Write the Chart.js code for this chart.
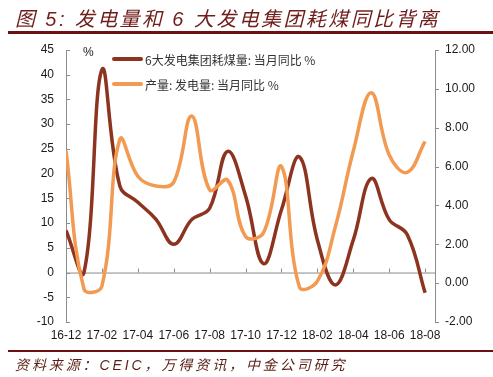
<!DOCTYPE html>
<html>
<head>
<meta charset="utf-8">
<script src="https://cdn.jsdelivr.net/npm/chart.js@4.4.1/dist/chart.umd.min.js"></script>
<style>
    body { margin: 0; background: #fff; }
    #kadr { position: relative; width: 493px; height: 377px; overflow: hidden; }
    #wykres-box { position: absolute; left: 0; top: 0; width: 493px; height: 377px; }
    #tytul {
        position: absolute; left: 15px; top: 3px; white-space: nowrap;
        font-family: "Liberation Sans", "Noto Sans CJK SC", sans-serif;
        font-size: 20px; font-style: italic; color: #6f1d1b; letter-spacing: 2.4px;
    }
    #kreska-gora { position: absolute; left: 8px; right: 0; top: 31px; height: 3px; background: #6d1014; }
    #kreska-dol { position: absolute; left: 8px; right: 0; top: 350px; height: 2px; background: #6d1014; }
    #zrodlo {
        position: absolute; left: 15px; top: 354px; white-space: nowrap;
        font-family: "Liberation Sans", "Noto Sans CJK SC", sans-serif;
        font-size: 14px; font-style: italic; color: #5b1f16; letter-spacing: 2.9px;
    }
    .legenda {
        position: absolute; left: 112px; height: 16px; display: flex; align-items: center;
        font-family: "Noto Sans CJK SC", sans-serif; font-size: 12px; color: #333; white-space: nowrap;
    }
    .legenda i { display: inline-block; width: 31px; height: 4px; border-radius: 2px; margin-right: 2px; }
</style>
</head>
<body>
<div id="kadr">
    <div id="wykres-box"><canvas id="wykres"></canvas></div>
    <div id="tytul">图 5: 发电量和 6 大发电集团耗煤同比背离</div>
    <div id="kreska-gora"></div>
    <div class="legenda" style="top:51px"><i style="background:#8d3420"></i>6大发电集团耗煤量: 当月同比 %</div>
    <div class="legenda" style="top:76px"><i style="background:#f29a52"></i>产量: 发电量: 当月同比 %</div>
    <div id="kreska-dol"></div>
    <div id="zrodlo">资料来源：CEIC，万得资讯，中金公司研究</div>
</div>
<script>
const MIESIACE = ['16-12', '17-01', '17-02', '17-03', '17-04', '17-05', '17-06', '17-07', '17-08', '17-09', '17-10',
    '17-11', '17-12', '18-01', '18-02', '18-03', '18-04', '18-05', '18-06', '18-07', '18-08'];

// 6大发电集团耗煤量 当月同比 (lewa oś)
const WEGIEL = [8.5, 0, 41, 17.5, 14.2, 10.8, 5.7, 10.7, 13, 24.5, 15.5, 1.8, 12.7, 23.4, 6.6, -2.5, 6.6, 19, 10.7, 7.7, -4.1];
// 产量: 发电量 当月同比 (prawa oś)
const PRAD = [6.8, -0.3, -0.15, 7.4, 5.5, 5.0, 5.2, 8.6, 4.8, 5.3, 2.4, 2.6, 6.0, -0.2, 0.1, 2.9, 6.8, 9.8, 6.6, 5.7, 7.3];

const TICKI_X = [0, 2, 4, 6, 8, 10, 12, 14, 16, 18, 20];
const TICKI_L = [-10, -5, 0, 5, 10, 15, 20, 25, 30, 35, 40, 45];
const TICKI_P = [-2, 0, 2, 4, 6, 8, 10, 12];

const KOLOR_OSI = '#8c8c8c';
const CZCIONKA = { family: '"Liberation Sans", Arial, sans-serif', size: 12 };

const osie = {
    id: 'osie',
    beforeDatasetsDraw(chart) {
        const { ctx, chartArea: ca, scales } = chart;
        const y0 = scales.y.getPixelForValue(0);
        ctx.save();
        ctx.strokeStyle = KOLOR_OSI;
        ctx.lineWidth = 1;
        ctx.beginPath();
        ctx.moveTo(ca.left, y0 + 0.5);
        ctx.lineTo(ca.right, y0 + 0.5);
        TICKI_X.forEach(v => {
            const px = Math.round(scales.x.getPixelForValue(v)) + 0.5;
            ctx.moveTo(px, y0);
            ctx.lineTo(px, y0 - 4);
        });
        TICKI_L.forEach(v => {
            const py = Math.round(scales.y.getPixelForValue(v)) + 0.5;
            ctx.moveTo(ca.left, py);
            ctx.lineTo(ca.left + 4, py);
        });
        TICKI_P.forEach(v => {
            const py = Math.round(scales.y2.getPixelForValue(v)) + 0.5;
            ctx.moveTo(ca.right, py);
            ctx.lineTo(ca.right + 4, py);
        });
        ctx.stroke();
        ctx.fillStyle = '#1a1a1a';
        ctx.font = '12px "Liberation Sans", Arial, sans-serif';
        ctx.textBaseline = 'middle';
        ctx.fillText('%', ca.left + 17, ca.top + 3);
        ctx.restore();
    }
};

function ustawTicki(lista) {
    return s => { s.ticks = lista.map(v => ({ value: v })); };
}

new Chart(document.getElementById('wykres'), {
    type: 'line',
    data: {
        datasets: [
            {
                label: '6大发电集团耗煤量: 当月同比 %',
                data: WEGIEL.map((v, i) => ({ x: i, y: v })),
                yAxisID: 'y',
                borderColor: '#8d3420',
                borderWidth: 3.5,
                pointRadius: 0,
                tension: 0.4,
                order: 1
            },
            {
                label: '产量: 发电量: 当月同比 %',
                data: PRAD.map((v, i) => ({ x: i, y: v })),
                yAxisID: 'y2',
                borderColor: '#f29a52',
                borderWidth: 3.5,
                pointRadius: 0,
                tension: 0.4,
                order: 0
            }
        ]
    },
    options: {
        responsive: true,
        maintainAspectRatio: false,
        animation: false,
        layout: { padding: { top: 50, left: 0, right: 0, bottom: 30 } },
        plugins: { legend: { display: false }, tooltip: { enabled: false } },
        scales: {
            x: {
                type: 'linear',
                min: 0, max: 20.55,
                afterBuildTicks: ustawTicki(TICKI_X),
                afterFit: s => { s.height = 25; },
                grid: { display: false, drawTicks: false },
                border: { display: false },
                ticks: {
                    autoSkip: false, maxRotation: 0, padding: 6,
                    color: '#1a1a1a', font: CZCIONKA,
                    callback: v => MIESIACE[v] ?? ''
                }
            },
            y: {
                position: 'left',
                min: -10, max: 45,
                afterBuildTicks: ustawTicki(TICKI_L),
                afterFit: s => { s.width = 66; },
                grid: { display: false, drawTicks: false },
                border: { display: true, color: KOLOR_OSI, width: 1 },
                ticks: { padding: 12, color: '#1a1a1a', font: CZCIONKA }
            },
            y2: {
                position: 'right',
                min: -2, max: 12,
                afterBuildTicks: ustawTicki(TICKI_P),
                afterFit: s => { s.width = 58; },
                grid: { display: false, drawTicks: false },
                border: { display: true, color: KOLOR_OSI, width: 1 },
                ticks: { padding: 10, color: '#1a1a1a', font: CZCIONKA, callback: v => v.toFixed(2) }
            }
        }
    },
    plugins: [osie]
});
</script>
</body>
</html>
